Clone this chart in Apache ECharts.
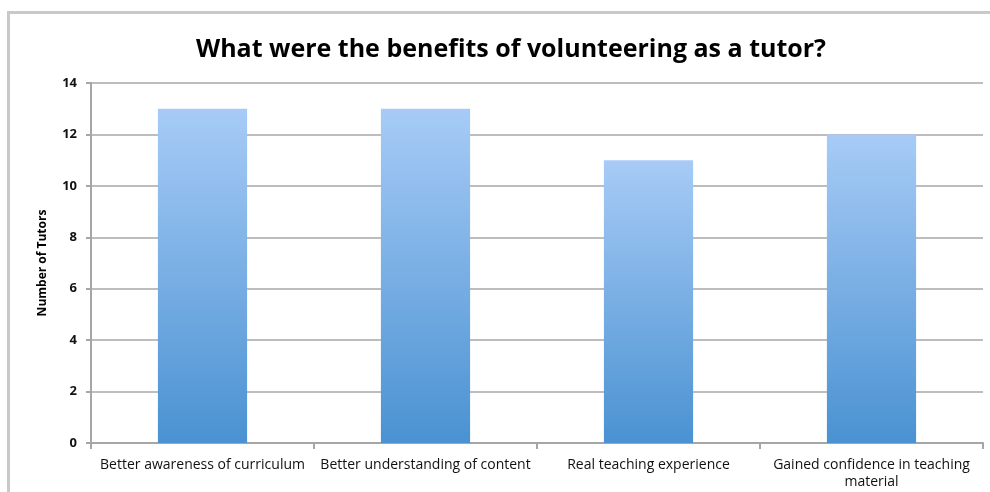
<!DOCTYPE html>
<html>
<head>
<meta charset="utf-8">
<script src="https://cdn.jsdelivr.net/npm/echarts@6/dist/echarts.min.js"></script>
<style>
html,body{margin:0;padding:0;background:#fff;}
#chart{width:990px;height:492px;}
</style>
</head>
<body>
<div id="chart"></div>
<script>
var categories = ["Better awareness of curriculum", "Better understanding of content", "Real teaching experience", "Gained confidence in teaching\nmaterial"];
var values = [13, 13, 11, 12];
var titleText = "What were the benefits of volunteering as a tutor?";
var yAxisName = "Number of Tutors";

var chart = echarts.init(document.getElementById('chart'));
chart.setOption({
  animation: false,
  backgroundColor: '#ffffff',
  graphic: [
    {type: 'line', shape: {x1: 7, y1: 12.5, x2: 990, y2: 12.5}, style: {stroke: '#c9c9c9', lineWidth: 3}},
    {type: 'line', shape: {x1: 8.5, y1: 11, x2: 8.5, y2: 492}, style: {stroke: '#c9c9c9', lineWidth: 3}}
  ],
  title: {
    text: titleText,
    left: 191,
    top: 32,
    textStyle: {fontFamily: 'Open Sans', fontWeight: 'bold', fontSize: 25, color: '#000'}
  },
  grid: {left: 91, right: 7, top: 83, bottom: 49},
  xAxis: {
    type: 'category',
    data: categories,
    axisLine: {lineStyle: {color: '#a6a6a6', width: 2}},
    axisTick: {show: true, length: 6, lineStyle: {color: '#a6a6a6', width: 2}},
    axisLabel: {fontFamily: 'Open Sans', fontSize: 14, color: '#111', margin: 14, lineHeight: 17, interval: 0}
  },
  yAxis: {
    type: 'value',
    min: 0,
    max: 14,
    interval: 2,
    name: yAxisName,
    nameLocation: 'middle',
    nameGap: 42,
    nameTextStyle: {fontFamily: 'Open Sans', fontWeight: 'bold', fontSize: 12, color: '#000'},
    axisLine: {show: true, lineStyle: {color: '#a6a6a6', width: 2}},
    axisTick: {show: true, length: 5, lineStyle: {color: '#a6a6a6', width: 2}},
    axisLabel: {fontFamily: 'Open Sans', fontWeight: 'bold', fontSize: 13, color: '#111', margin: 14},
    splitLine: {lineStyle: {color: '#bdbdbd', width: 2}}
  },
  series: [{
    type: 'bar',
    data: values,
    barWidth: '40%',
    itemStyle: {
      color: new echarts.graphic.LinearGradient(0, 0, 0, 1, [
        {offset: 0, color: '#a7cbf6'},
        {offset: 1, color: '#4a92d2'}
      ])
    }
  }]
});
</script>
</body>
</html>
